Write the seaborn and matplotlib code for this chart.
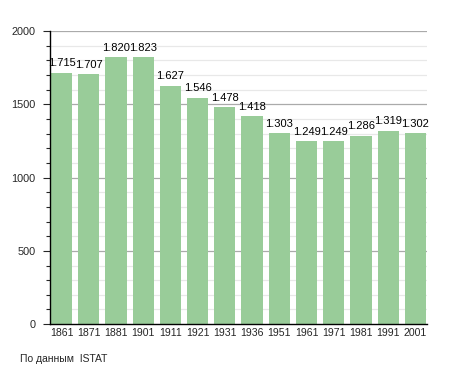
import pandas as pd
import matplotlib.pyplot as plt
import seaborn as sns

years = ['1861', '1871', '1881', '1901', '1911', '1921', '1931', '1936',
         '1951', '1961', '1971', '1981', '1991', '2001']
population = [1715, 1707, 1820, 1823, 1627, 1546, 1478, 1418,
              1303, 1249, 1249, 1286, 1319, 1302]

df = pd.DataFrame({'year': years, 'population': population})

sns.set_style('white')
plt.rcParams['font.family'] = ['Liberation Sans', 'DejaVu Sans']

fig = plt.figure(figsize=(4.55, 3.73), dpi=100)
ax = fig.add_axes([0.11, 0.131, 0.828, 0.786])

# grid: light every 100, darker every 500
for v in range(100, 2001, 100):
    ax.axhline(v, color='#aaaaaa' if v % 500 == 0 else '#e8e8e8',
               lw=0.9, zorder=0)

sns.barplot(x='year', y='population', data=df, color='#99cc99',
            saturation=1, width=0.78, edgecolor='none', linewidth=0,
            ax=ax, zorder=2)

for i, v in enumerate(population):
    ax.text(i, v + 30, f'{v/1000:.3f}', ha='center', va='bottom',
            fontsize=8, color='black', zorder=3)

ax.set_xlim(-0.42, 13.42)
ax.set_ylim(0, 2000)
ax.set_yticks(range(0, 2001, 500))
ax.set_yticks(range(0, 2001, 100), minor=True)
ax.tick_params(axis='y', which='major', length=5, width=0.8, labelsize=7.8,
               left=True, pad=5.5)
ax.tick_params(axis='y', which='minor', length=3, width=0.8, left=True)
ax.tick_params(axis='x', length=0, labelsize=7.6, pad=3)
ax.set_xlabel('')
ax.set_ylabel('')

for s in ['top', 'right']:
    ax.spines[s].set_visible(False)
for s in ['left', 'bottom']:
    ax.spines[s].set_color('black')
    ax.spines[s].set_linewidth(1)

fig.text(0.045, 0.03, 'По данным  ISTAT', fontsize=7.5)

plt.savefig('out.png', dpi=100)
plt.close()
